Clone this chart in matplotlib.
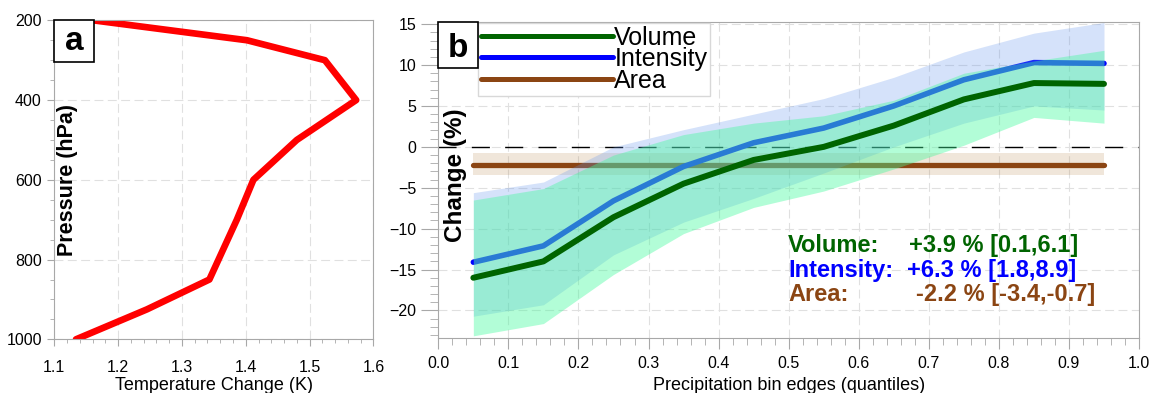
import matplotlib
matplotlib.use('Agg')
import matplotlib.pyplot as plt
from matplotlib.patches import Rectangle
from matplotlib.ticker import MultipleLocator

plt.rcParams['font.family'] = ['Liberation Sans', 'DejaVu Sans']

# Panel a: temperature change profile
pressure = [200, 250, 300, 400, 500, 600, 700, 850, 925, 1000]
temp_change = [1.161, 1.402, 1.524, 1.573, 1.480, 1.412, 1.386, 1.343, 1.245, 1.134]

# Panel b: change per precipitation quantile bin
quantiles = [0.05, 0.15, 0.25, 0.35, 0.45, 0.55, 0.65, 0.75, 0.85, 0.95]
volume = [-16.0, -14.0, -8.6, -4.5, -1.6, 0.0, 2.6, 5.8, 7.8, 7.7]
volume_lo = [-23.1, -21.6, -15.6, -10.6, -7.4, -5.4, -2.7, 0.2, 3.6, 2.9]
volume_hi = [-6.5, -5.1, -1.0, 1.5, 2.9, 3.8, 5.7, 9.0, 10.5, 11.8]
intensity = [-14.1, -12.1, -6.6, -2.4, 0.5, 2.3, 5.0, 8.2, 10.3, 10.2]
intensity_lo = [-20.7, -19.3, -13.2, -9.2, -6.3, -3.2, 0.0, 2.9, 5.0, 4.5]
intensity_hi = [-5.6, -4.3, 0.0, 2.1, 4.0, 5.9, 8.5, 11.6, 13.9, 15.2]
area = [-2.2] * 10
area_lo = [-3.4] * 10
area_hi = [-0.75] * 10

stat_names = ['Volume:', 'Intensity:', 'Area:']
stat_values = ['+3.9 % [0.1,6.1]', '+6.3 % [1.8,8.9]', '-2.2 % [-3.4,-0.7]']

c_green = '#006400'
c_blue = '#0000ff'
c_brown = '#8b4513'
c_spine = '#a8a8a8'
grid_kw = dict(color='#e0e0e0', linestyle=(0, (8, 4)), linewidth=0.8)

fig = plt.figure(figsize=(11.51, 3.93), dpi=100)

# ---- panel a
ax1 = fig.add_axes([0.0472, 0.1366, 0.2772, 0.8117])
ax1.plot(temp_change, pressure, color='red', lw=4.8, solid_capstyle='round',
         solid_joinstyle='round')
ax1.set_xlim(1.1, 1.6)
ax1.set_ylim(1000, 200)
ax1.set_xticks([1.1, 1.2, 1.3, 1.4, 1.5, 1.6])
ax1.xaxis.set_minor_locator(MultipleLocator(0.02))
ax1.set_yticks([200, 400, 600, 800, 1000])
ax1.yaxis.set_minor_locator(MultipleLocator(50))
ax1.set_axisbelow(True)
ax1.grid(True, which='major', **grid_kw)
ax1.tick_params(which='both', color=c_spine, labelsize=11.5)
ax1.tick_params(axis='x', which='major', length=5, pad=10)
ax1.tick_params(axis='y', which='major', length=5, pad=4)
ax1.tick_params(which='minor', length=3)
for s in ax1.spines.values():
    s.set_color(c_spine)

ax1.set_xlabel('Temperature Change (K)', fontsize=13)
ax1.xaxis.set_label_coords(0.5, -0.159)
ax1.xaxis.label.set_va('baseline')
ax1.set_ylabel('Pressure (hPa)', fontsize=15.5, fontweight='bold')
ax1.yaxis.set_label_coords(0.04, 0.499)
ax1.yaxis.label.set_va('center')

ax1.add_patch(Rectangle((0, 0.868), 0.125, 0.132, transform=ax1.transAxes,
                        fc='white', ec='black', lw=1.2, zorder=10, clip_on=False))
ax1.text(0.0625, 0.907, 'a', transform=ax1.transAxes, ha='center', va='baseline',
         fontsize=24, fontweight='bold', zorder=11)

# ---- panel b
ax2 = fig.add_axes([0.3808, 0.1392, 0.6088, 0.8056])
ax2.set_axisbelow(True)
ax2.grid(True, which='major', **grid_kw)
ax2.axhline(0, color='black', lw=1.0, linestyle=(0, (13, 11)), zorder=1)

ax2.fill_between(quantiles, area_lo, area_hi, color='#b48246', alpha=0.2, lw=0, zorder=2)
ax2.plot(quantiles, area, color=c_brown, lw=3.8, solid_capstyle='round', zorder=2.1,
         label='Area')
ax2.plot(quantiles, intensity, color=c_blue, lw=4.0, solid_capstyle='round',
         zorder=2.2, label='Intensity')
ax2.fill_between(quantiles, intensity_lo, intensity_hi, color='#6495ed', alpha=0.27,
                 lw=0, zorder=2.3)
ax2.fill_between(quantiles, volume_lo, volume_hi, color='#40fa9b', alpha=0.4,
                 lw=0, zorder=2.4)
ax2.plot(quantiles, volume, color=c_green, lw=4.3, solid_capstyle='round',
         zorder=3, label='Volume')

ax2.set_xlim(0, 1)
ax2.set_ylim(-23.4, 15.3)
ax2.set_xticks([i / 10 for i in range(11)])
ax2.set_xticklabels(['%.1f' % (i / 10) for i in range(11)])
ax2.xaxis.set_minor_locator(MultipleLocator(0.02))
ax2.yaxis.set_major_locator(MultipleLocator(5))
ax2.yaxis.set_minor_locator(MultipleLocator(1))
ax2.tick_params(which='both', color=c_spine, labelsize=11.5)
ax2.tick_params(axis='y', which='major', length=12, pad=4)
ax2.tick_params(axis='y', which='minor', length=6)
ax2.tick_params(axis='x', which='major', length=8, pad=5)
ax2.tick_params(axis='x', which='minor', length=5)
for s in ax2.spines.values():
    s.set_color(c_spine)

ax2.set_xlabel('Precipitation bin edges (quantiles)', fontsize=13)
ax2.xaxis.set_label_coords(0.5, -0.163)
ax2.xaxis.label.set_va('baseline')
ax2.set_ylabel('Change (%)', fontsize=17.5, fontweight='bold')
ax2.yaxis.set_label_coords(0.024, 0.516)
ax2.yaxis.label.set_va('center')

handles, labels = ax2.get_legend_handles_labels()
order = [labels.index('Volume'), labels.index('Intensity'), labels.index('Area')]
leg = ax2.legend([handles[i] for i in order], [labels[i] for i in order],
                 loc='upper left', bbox_to_anchor=(0.056, 0.997), fontsize=18,
                 fancybox=False, edgecolor='#d8d8d8', framealpha=1, borderpad=0.12,
                 labelspacing=-0.1, handlelength=5.3, handletextpad=0.05,
                 borderaxespad=0)
leg.get_frame().set_linewidth(1.0)
leg.set_zorder(5)
for ln in leg.get_lines():
    ln.set_linewidth(3.6)

ax2.add_patch(Rectangle((0, 0.853), 0.057, 0.147, transform=ax2.transAxes,
                        fc='white', ec='black', lw=1.2, zorder=10, clip_on=False))
ax2.text(0.0285, 0.889, 'b', transform=ax2.transAxes, ha='center', va='baseline',
         fontsize=24, fontweight='bold', zorder=11)

stat_colors = [c_green, c_blue, c_brown]
stat_y = [0.2735, 0.1946, 0.1188]
value_x = [0.672, 0.669, 0.682]
for name, val, col, y, vx in zip(stat_names, stat_values, stat_colors, stat_y, value_x):
    ax2.text(0.4995, y, name, transform=ax2.transAxes, color=col, fontsize=17,
             fontweight='bold', va='baseline', ha='left')
    ax2.text(vx, y, val, transform=ax2.transAxes, color=col, fontsize=17,
             fontweight='bold', va='baseline', ha='left')

fig.savefig('out.png', dpi=100)
